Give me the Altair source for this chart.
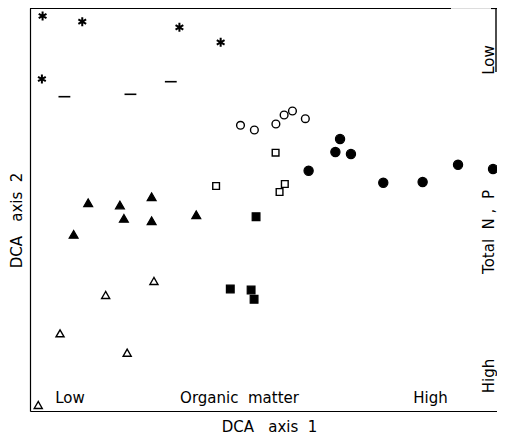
import altair as alt
import pandas as pd

NB = "\u00a0"

# DCA scores (arbitrary units)
star_x = [12.7, 52.7, 150.7, 192.3, 12.0]
star_y = [395.0, 389.3, 383.7, 368.7, 332.0]
dash_x = [34.7, 101.3, 142.0]
dash_y = [314.3, 316.7, 329.3]
ocirc_x = [212.3, 226.3, 248.0, 256.3, 264.7, 277.7]
ocirc_y = [285.7, 281.0, 287.0, 296.0, 300.0, 292.3]
fcirc_x = [312.7, 308.0, 323.7, 281.0, 356.3, 396.0, 431.7, 467.0]
fcirc_y = [272.0, 259.0, 257.0, 240.3, 228.3, 229.0, 246.3, 242.0]
osq_x = [187.7, 247.7, 257.0, 251.7]
osq_y = [225.0, 258.3, 227.0, 219.0]
fsq_x = [228.0, 202.0, 223.0, 226.0]
fsq_y = [194.3, 122.0, 121.0, 111.7]
ftri_x = [44.0, 58.7, 90.7, 94.7, 122.7, 122.7, 167.7]
ftri_y = [176.7, 208.3, 206.0, 192.7, 214.3, 190.3, 196.3]
otri_x = [30.3, 76.3, 125.0, 98.0, 8.3]
otri_y = [77.7, 116.0, 130.0, 58.3, 6.0]

bottom_labels = ["Low", "Organic" + NB + NB + "matter", "High"]
bottom_lx = [40.3, 211.3, 403.9]
bottom_ly = [13, 13, 13]
right_labels = ["Low", "Total" + NB + NB + "N" + NB + "," + NB + NB + "P", "High"]
right_lx = [463, 463, 463]
right_ly = [351, 179, 35]

x_title = "DCA" + NB * 3 + "axis" + NB * 2 + "1"
y_title = "DCA" + NB * 3 + "axis" + NB * 2 + "2"

PW, PH = 467, 403          # plot area in pixels
XD, YD = 471, 403          # data extent
xs = alt.Scale(domain=[0, XD], nice=False, zero=False)
ys = alt.Scale(domain=[0, YD], nice=False, zero=False)

FONT = "DejaVu Sans"

def pts(xv, yv, shape, filled, size, sw=1.2):
    df = pd.DataFrame({"x": xv, "y": yv})
    return alt.Chart(df).mark_point(
        shape=shape, filled=filled, size=size, color="black",
        strokeWidth=sw, opacity=1, fill="black" if filled else "white",
        stroke="black"
    ).encode(
        x=alt.X("x:Q", scale=xs, axis=alt.Axis(title=x_title, ticks=False, labels=False,
                                              grid=False, domainColor="black", domainWidth=1.2,
                                              titleFont=FONT, titleFontSize=15, titleFontWeight="normal",
                                              titlePadding=8, titleColor="black", titleX=239)),
        y=alt.Y("y:Q", scale=ys, axis=alt.Axis(title=y_title, ticks=False, labels=False,
                                              grid=False, domainColor="black", domainWidth=1.2,
                                              titleFont=FONT, titleFontSize=15, titleFontWeight="normal",
                                              titlePadding=6, titleColor="black", titleY=212)),
    )

asterisk = "M0,-1L0,1M-0.87,-0.5L0.87,0.5M-0.87,0.5L0.87,-0.5"
dash = "M-1,0L1,0"

layers = [
    pts(star_x, star_y, asterisk, False, 80, 2.0),
    pts(dash_x, dash_y, dash, False, 140, 1.6),
    pts(ocirc_x, ocirc_y, "circle", False, 60, 1.4),
    pts(fcirc_x, fcirc_y, "circle", True, 85),
    pts(osq_x, osq_y, "square", False, 45, 1.4),
    pts(fsq_x, fsq_y, "square", True, 60),
    pts(ftri_x, ftri_y, "triangle-up", True, 80),
    pts(otri_x, otri_y, "triangle-up", False, 65, 1.4),
]

bdf = pd.DataFrame({"t": bottom_labels, "x": bottom_lx, "y": bottom_ly})
btext = alt.Chart(bdf).mark_text(font=FONT, fontSize=15, color="black", baseline="middle").encode(
    x=alt.X("x:Q", scale=xs), y=alt.Y("y:Q", scale=ys), text="t:N")

rdf = pd.DataFrame({"t": right_labels, "x": right_lx, "y": right_ly})
rtext = alt.Chart(rdf).mark_text(font=FONT, fontSize=15, color="black", angle=270,
                                 baseline="middle").encode(
    x=alt.X("x:Q", scale=xs), y=alt.Y("y:Q", scale=ys), text="t:N")

# frame pieces (top border with gap, partial right border)
one = pd.DataFrame({"a": [0]})
top1 = alt.Chart(one).mark_rule(color="black", strokeWidth=1.2).encode(
    x=alt.value(0), x2=alt.value(421), y=alt.value(0.5))
top2 = alt.Chart(one).mark_rule(color="black", strokeWidth=1.2).encode(
    x=alt.value(461), x2=alt.value(PW), y=alt.value(0.5))
right = alt.Chart(one).mark_rule(color="black", strokeWidth=1.4).encode(
    x=alt.value(PW - 1), y=alt.value(0), y2=alt.value(64))

chart = alt.layer(*layers, btext, rtext, top1, top2, right).properties(
    width=PW, height=PH,
    autosize=alt.AutoSizeParams(type="none"),
    padding={"left": 22, "top": 0, "right": 0, "bottom": 24},
).configure_view(stroke=None).configure(background="white")

chart.save("out.html", embed_options={"renderer": "svg", "actions": False})
